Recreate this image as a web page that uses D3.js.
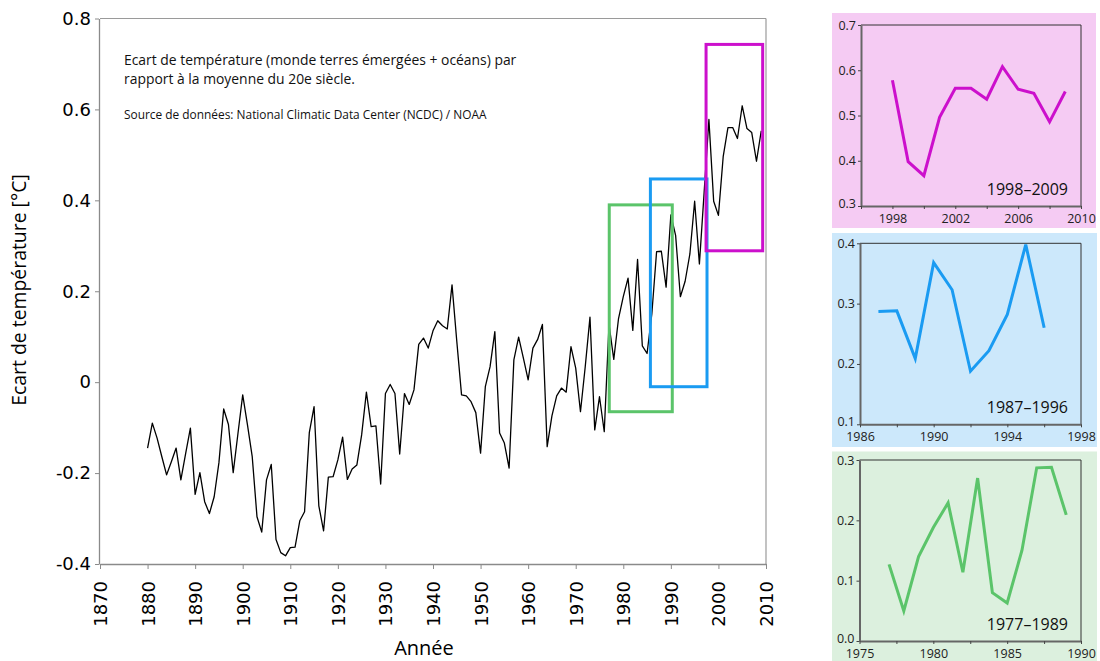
<!DOCTYPE html>
<html>
<head>
<meta charset="utf-8">
<script src="https://cdn.jsdelivr.net/npm/d3@7"></script>
<style>
  html, body { margin: 0; padding: 0; background: #fff; }
  svg { display: block; }
</style>
</head>
<body>
<svg id="chart" width="1100" height="661"></svg>
<script>
// ---------- DATA ----------
const years = d3.range(1880, 2010);
const anomalies = [
  -0.145, -0.090, -0.123, -0.164, -0.204, -0.175, -0.145, -0.215, -0.157, -0.101,
  -0.247, -0.199, -0.263, -0.289, -0.252, -0.177, -0.059, -0.093, -0.199, -0.113,
  -0.028, -0.094, -0.164, -0.296, -0.330, -0.215, -0.181, -0.346, -0.375, -0.382,
  -0.364, -0.363, -0.305, -0.285, -0.111, -0.054, -0.272, -0.327, -0.209, -0.208,
  -0.171, -0.121, -0.214, -0.191, -0.182, -0.116, -0.022, -0.098, -0.096, -0.224,
  -0.025, -0.005, -0.025, -0.158, -0.025, -0.049, -0.017, 0.083, 0.097, 0.075,
  0.113, 0.135, 0.124, 0.117, 0.214, 0.090, -0.028, -0.030, -0.043, -0.067,
  -0.156, -0.010, 0.034, 0.111, -0.112, -0.134, -0.189, 0.049, 0.099, 0.053,
  0.005, 0.075, 0.094, 0.127, -0.142, -0.074, -0.030, -0.013, -0.022, 0.078,
  0.031, -0.065, 0.034, 0.143, -0.105, -0.032, -0.109, 0.127, 0.050, 0.140,
  0.188, 0.229, 0.114, 0.270, 0.080, 0.063, 0.150, 0.287, 0.288, 0.209,
  0.368, 0.323, 0.188, 0.222, 0.282, 0.398, 0.260, 0.418, 0.578, 0.398,
  0.367, 0.496, 0.560, 0.560, 0.536, 0.608, 0.558, 0.549, 0.486, 0.553
];
const xTickYears = d3.range(1870, 2011, 10);
const yTickValues = [-0.4, -0.2, 0, 0.2, 0.4, 0.6, 0.8];

// highlight boxes in data units: [yearStart, yearEnd, valueMin, valueMax]
const greenBox = [1977.05, 1990.3, -0.065, 0.39];
const blueBox  = [1985.7, 1997.6, -0.01, 0.447];
const pinkBox  = [1997.4, 2009.3, 0.289, 0.743];

// insets
const pinkRange = [1998, 2009], pinkXDomain = [1996, 2010], pinkYDomain = [0.3, 0.7];
const pinkXLabels = [1998, 2002, 2006, 2010], pinkXTicks = d3.range(1996, 2011, 2), pinkYTicks = [0.3, 0.4, 0.5, 0.6, 0.7];
const blueRange = [1987, 1996], blueXDomain = [1986, 1998], blueYDomain = [0.1, 0.4];
const blueXLabels = [1986, 1990, 1994, 1998], blueXTicks = d3.range(1986, 1999, 2), blueYTicks = [0.1, 0.2, 0.3, 0.4];
const greenRange = [1977, 1989], greenXDomain = [1975, 1990], greenYDomain = [0.0, 0.3];
const greenXLabels = [1975, 1980, 1985, 1990], greenXTicks = [1975, 1977.5, 1980, 1982.5, 1985, 1987.5, 1990], greenYTicks = [0.0, 0.1, 0.2, 0.3];

const titleText1 = "Ecart de température (monde terres émergées + océans) par";
const titleText2 = "rapport à la moyenne du 20e siècle.";
const sourceText = "Source de données: National Climatic Data Center (NCDC) / NOAA";

const COLORS = {
  green: "#5bc46a", blue: "#1a9bf2", pink: "#cc10cc",
  greenBg: "#dcf0de", blueBg: "#cce8fb", pinkBg: "#f5cbf3"
};

const data = years.map((yr, i) => ({ year: yr, value: anomalies[i] }));

// ---------- MAIN CHART ----------
const svg = d3.select("#chart");
const x = d3.scaleLinear().domain([1870, 2010]).range([100, 766]);
const y = d3.scaleLinear().domain([-0.4, 0.8]).range([564, 18.5]);
const numFont = "'DejaVu Sans', Verdana, sans-serif";
const textFont = "'Open Sans', 'Noto Sans', sans-serif";

const main = svg.append("g");

// frame (top/right)
main.append("line").attr("x1", x.range()[0]).attr("x2", x.range()[1]).attr("y1", y(0.8)).attr("y2", y(0.8))
  .attr("stroke", "#9a9a9a").attr("stroke-width", 1.2);
main.append("line").attr("x1", x.range()[1]).attr("x2", x.range()[1]).attr("y1", y(0.8)).attr("y2", y(-0.4))
  .attr("stroke", "#9a9a9a").attr("stroke-width", 1.2);

const fmtMain = d => String(Math.round(d * 10) / 10);

const yAxis = main.append("g").attr("transform", `translate(${x.range()[0] - 1},0)`)
  .call(d3.axisLeft(y).tickValues(yTickValues).tickSize(4).tickSizeOuter(0).tickFormat(fmtMain));
yAxis.select(".domain").attr("stroke", "#8a8a8a").attr("stroke-width", 1.3);
yAxis.selectAll(".tick line").attr("stroke", "#8a8a8a");
yAxis.selectAll(".tick text").attr("font-family", numFont).attr("font-size", 18).attr("fill", "#000").attr("x", -8);

const xAxis = main.append("g").attr("transform", `translate(0,${y(-0.4)})`)
  .call(d3.axisBottom(x).tickValues(xTickYears).tickSize(5).tickSizeOuter(0).tickFormat(d3.format("d")));
xAxis.select(".domain").attr("stroke", "#8a8a8a").attr("stroke-width", 1.3);
xAxis.selectAll(".tick line").attr("stroke", "#8a8a8a");
xAxis.selectAll(".tick text")
  .attr("font-family", numFont).attr("font-size", 18).attr("fill", "#000")
  .attr("text-anchor", "end").attr("transform", "translate(0,17) rotate(-90)")
  .attr("x", 0).attr("y", 0).attr("dy", "0.36em");

// line
const line = d3.line().x(d => x(d.year)).y(d => y(d.value));
main.append("path").datum(data).attr("d", line)
  .attr("fill", "none").attr("stroke", "#000").attr("stroke-width", 1.3).attr("stroke-linejoin", "round");

// boxes
[[greenBox, COLORS.green], [blueBox, COLORS.blue], [pinkBox, COLORS.pink]].forEach(([b, c]) => {
  main.append("rect")
    .attr("x", x(b[0])).attr("y", y(b[3]))
    .attr("width", x(b[1]) - x(b[0])).attr("height", y(b[2]) - y(b[3]))
    .attr("fill", "none").attr("stroke", c).attr("stroke-width", 3);
});

// annotation texts
main.append("text").attr("x", 124).attr("y", 65).attr("font-family", textFont).attr("font-size", 13.9).attr("fill", "#111").text(titleText1);
main.append("text").attr("x", 124).attr("y", 84).attr("font-family", textFont).attr("font-size", 13.9).attr("fill", "#111").text(titleText2);
main.append("text").attr("x", 124).attr("y", 119).attr("font-family", textFont).attr("font-size", 11.9).attr("fill", "#111").text(sourceText);

// axis titles
main.append("text").attr("transform", "translate(26,290) rotate(-90)").attr("text-anchor", "middle")
  .attr("font-family", textFont).attr("font-size", 19.4).attr("fill", "#000").text("Ecart de température [°C]");
main.append("text").attr("x", 424).attr("y", 655).attr("text-anchor", "middle")
  .attr("font-family", textFont).attr("font-size", 20).attr("fill", "#000").text("Année");

// ---------- INSETS ----------
function drawInset(cfg) {
  const g = svg.append("g");
  g.append("rect").attr("x", cfg.bg[0]).attr("y", cfg.bg[1]).attr("width", cfg.bg[2]).attr("height", cfg.bg[3]).attr("fill", cfg.bgColor);
  const ix = d3.scaleLinear().domain(cfg.xDomain).range([cfg.plot[0], cfg.plot[1]]);
  const iy = d3.scaleLinear().domain(cfg.yDomain).range([cfg.plot[3], cfg.plot[2]]);
  // top/right frame
  g.append("line").attr("x1", ix.range()[0]).attr("x2", ix.range()[1]).attr("y1", iy.range()[1]).attr("y2", iy.range()[1]).attr("stroke", "#333").attr("stroke-width", 1);
  g.append("line").attr("x1", ix.range()[1]).attr("x2", ix.range()[1]).attr("y1", iy.range()[1]).attr("y2", iy.range()[0]).attr("stroke", "#333").attr("stroke-width", 1);
  const ya = g.append("g").attr("transform", `translate(${ix.range()[0]},0)`)
    .call(d3.axisLeft(iy).tickValues(cfg.yTicks).tickSize(3).tickSizeOuter(0).tickFormat(d3.format(".1f")));
  ya.select(".domain").attr("stroke", "#666").attr("stroke-width", 2);
  ya.selectAll(".tick line").attr("stroke", "#444");
  ya.selectAll(".tick text").attr("font-family", textFont).attr("font-size", 12.5).attr("fill", "#222").attr("x", -5)
    .attr("dy", (d, i) => i === 0 ? "0.12em" : "0.32em");
  const xa = g.append("g").attr("transform", `translate(0,${iy.range()[0]})`)
    .call(d3.axisBottom(ix).tickValues(cfg.xTicks).tickSize(3).tickSizeOuter(0)
      .tickFormat(d => cfg.xLabels.includes(d) ? String(d) : ""));
  xa.select(".domain").attr("stroke", "#666").attr("stroke-width", 2);
  xa.selectAll(".tick line").attr("stroke", "#444");
  xa.selectAll(".tick text").attr("font-family", textFont).attr("font-size", 12.5).attr("fill", "#222").attr("y", 8).attr("dy", "0.71em");
  const sub = data.filter(d => d.year >= cfg.range[0] && d.year <= cfg.range[1]);
  g.append("path").datum(sub)
    .attr("d", d3.line().x(d => ix(d.year)).y(d => iy(d.value)))
    .attr("fill", "none").attr("stroke", cfg.color).attr("stroke-width", 3).attr("stroke-linejoin", "miter");
  g.append("text").attr("x", cfg.plot[1] - 13).attr("y", cfg.plot[3] - 11).attr("text-anchor", "end")
    .attr("font-family", textFont).attr("font-size", 16).attr("fill", "#111")
    .text(`${cfg.range[0]}–${cfg.range[1]}`);
}

drawInset({ bg: [832, 13, 264, 215], bgColor: COLORS.pinkBg, plot: [861, 1081, 25, 206],
  xDomain: pinkXDomain, yDomain: pinkYDomain, xTicks: pinkXTicks, xLabels: pinkXLabels, yTicks: pinkYTicks,
  range: pinkRange, color: COLORS.pink });
drawInset({ bg: [832, 233, 265, 214], bgColor: COLORS.blueBg, plot: [860, 1081, 243.3, 424.3],
  xDomain: blueXDomain, yDomain: blueYDomain, xTicks: blueXTicks, xLabels: blueXLabels, yTicks: blueYTicks,
  range: blueRange, color: COLORS.blue });
drawInset({ bg: [832, 451.5, 265, 210], bgColor: COLORS.greenBg, plot: [859.5, 1081, 460, 641],
  xDomain: greenXDomain, yDomain: greenYDomain, xTicks: greenXTicks, xLabels: greenXLabels, yTicks: greenYTicks,
  range: greenRange, color: COLORS.green });
</script>
</body>
</html>
